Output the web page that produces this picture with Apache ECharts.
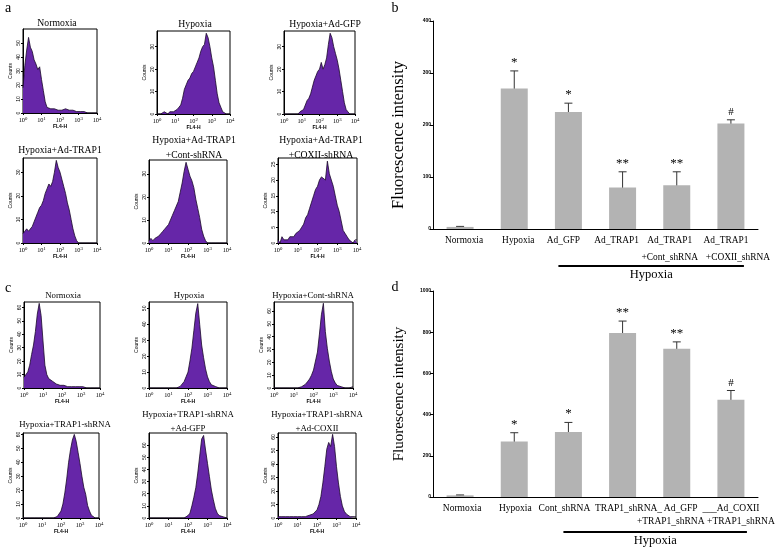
<!DOCTYPE html>
<html>
<head>
<meta charset="utf-8">
<script src="https://cdn.jsdelivr.net/npm/echarts@6/dist/echarts.min.js"></script>
<style>html,body{margin:0;padding:0;background:#fff}#c{width:778px;height:547px}</style>
</head>
<body>
<div id="c"></div>
<script>
// ---------- DATA ----------
// histogram bin positions (log10 decades of FL4-H)
const decades = [0,0.1,0.2,0.3,0.4,0.5,0.6,0.7,0.8,0.9,1,1.1,1.2,1.3,1.4,1.5,1.6,1.7,1.8,1.9,2,2.1,2.2,2.3,2.4,2.5,2.6,2.7,2.8,2.9,3,3.1,3.2,3.3,3.4,3.5,3.6,3.7,3.8,3.9,4];
const xTickExponents = [0,1,2,3,4];

// panel a histograms (counts)
const aNormoxia   = [18,34,45,54,47,44,38,35,31,33, 24,16,8,4,3,3,2,3,2,2, 3,2,2,3,2,2,1,2,1,1, 2,1,1,1,1,0,1,0,0,0, 0];
const aHypoxia    = [0,0,0,0,1,1,0,1,1,1, 1,2,3,4,7,11,13,15,16,18, 19,21,23,25,28,30,31,36,34,30, 25,21,15,9,5,3,1,1,0,0, 0];
const aAdGFP      = [0,0,0,0,0,0,0,0,0,1, 1,2,4,6,7,9,12,15,17,19, 20,23,20,22,25,31,36,34,30,27, 24,20,15,10,5,2,1,0,0,0, 0];
const aAdTRAP1    = [4,5,6,5,5,7,9,11,13,15, 16,18,21,23,25,24,26,30,35,32, 30,27,24,21,17,14,10,6,3,1, 0,0,0,0,0,0,0,0,0,0, 0];
const aTRAP1Cont  = [1,2,1,2,2,3,4,5,6,7, 8,10,12,14,16,18,22,26,31,35, 32,29,27,24,19,15,11,6,3,1, 0,0,0,0,0,0,0,0,0,0, 0];
const aTRAP1COXII = [1,0,2,1,1,1,2,2,2,3, 3,4,5,6,8,9,11,13,15,17, 18,20,21,21,20,26,22,20,18,15, 12,10,7,4,3,2,1,1,0,1, 1];
// panel c histograms (counts)
const cNormoxia   = [8,7,12,17,25,32,42,55,63,54, 35,17,10,7,6,5,4,3,3,2, 2,2,1,1,1,1,1,1,1,1, 1,1,1,0,0,0,0,0,0,0, 0];
const cHypoxia    = [0,0,0,0,0,0,0,0,0,0, 0,0,0,0,0,1,1,2,4,7, 10,17,25,36,47,53,40,27,19,12, 7,4,2,1,1,0,0,0,0,0, 0];
const cContShRNA  = [0,0,0,0,0,0,0,0,0,0, 0,0,0,1,1,2,3,5,7,10, 14,21,28,42,57,66,44,31,21,13, 7,4,2,1,1,0,0,0,0,1, 1];
const cTRAP1sh    = [0,0,0,0,0,0,0,0,0,0, 0,0,0,0,0,0,0,0,1,2, 5,10,18,28,40,49,56,60,55,47, 39,30,22,17,9,5,2,1,0,0, 0];
const cTRAP1GFP   = [0,0,0,0,0,0,0,0,0,0, 0,0,0,0,0,0,0,0,0,1, 2,4,10,17,25,37,51,65,68,56, 45,34,23,15,8,4,2,3,1,0, 0];
const cTRAP1COXII = [1,0,1,0,1,0,1,0,1,1, 1,1,1,1,1,1,2,2,3,4, 6,10,16,26,38,51,56,53,62,53, 38,26,16,9,5,3,2,1,1,1, 1];

const histTitles = ['Normoxia','Hypoxia','Hypoxia+Ad-GFP','Hypoxia+Ad-TRAP1','Hypoxia+Ad-TRAP1\n+Cont-shRNA','Hypoxia+Ad-TRAP1\n+COXII-shRNA',
  'Normoxia','Hypoxia','Hypoxia+Cont-shRNA','Hypoxia+TRAP1-shRNA','Hypoxia+TRAP1-shRNA\n+Ad-GFP','Hypoxia+TRAP1-shRNA\n+Ad-COXII'];
const histData = [aNormoxia,aHypoxia,aAdGFP,aAdTRAP1,aTRAP1Cont,aTRAP1COXII,cNormoxia,cHypoxia,cContShRNA,cTRAP1sh,cTRAP1GFP,cTRAP1COXII];
const histYMax = [60,37,37,36,36,27,64,54,67,61,70,63];
const histYStep = [10,10,10,10,10,5,10,10,10,10,10,10];

// panel b bars
const bCategories = ['Normoxia','Hypoxia','Ad_GFP','Ad_TRAP1','Ad_TRAP1\n+Cont_shRNA','Ad_TRAP1\n+COXII_shRNA'];
const bMeans   = [4, 270, 225, 80, 84, 203];
const bErrLow  = [3, 240, 214, 54, 63, 199];
const bErrHigh = [5, 304, 242, 110, 110, 210];
const bMarks   = ['', '*', '*', '**', '**', '#'];
const bTicks = [0, 100, 200, 300, 400];

// panel d bars
const dCategories = ['Normoxia','Hypoxia','Cont_shRNA','TRAP1_shRNA_','Ad_GFP\n+TRAP1_shRNA','___Ad_COXII\n+TRAP1_shRNA'];
const dMeans   = [8, 270, 315, 796, 720, 472];
const dErrLow  = [6, 243, 283, 752, 705, 443];
const dErrHigh = [10, 312, 362, 854, 753, 517];
const dMarks   = ['', '*', '*', '**', '**', '#'];
const dTicks = [0, 200, 400, 600, 800, 1000];

const groupLabel = 'Hypoxia';
const axisTitle = 'Fluorescence intensity';

// ---------- LAYOUT / STYLE ----------
const SERIF = 'Liberation Serif';
const SANS = 'Liberation Sans';
const histLayout = [
  {l:23,t:29,w:74,h:84},{l:157,t:31,w:73,h:83},{l:284,t:31,w:71,h:83},
  {l:23,t:158,w:74,h:85},{l:149,t:160,w:78,h:83},{l:278,t:158,w:79,h:85},
  {l:24,t:302,w:76,h:86},{l:149,t:302,w:78,h:86},{l:274,t:302,w:79,h:86},
  {l:23,t:433,w:76,h:85},{l:149,t:433,w:78,h:85},{l:278,t:433,w:78,h:85}
];
const titlePos = [[57,23],[195,24],[325,24],[60,150],[194,147.5],[321,147.5],[63,296],[189,296],[313,296],[65,425],[188,422],[317,422]];
const titleLH = [15,15,15,15,15,15,15,15,15,15,14,14];
const titleSize = [9.7,9.7,9.7,9.7,9.7,9.7,8.8,8.8,8.8,8.8,8.8,8.8];
// horizontal nudges (px) of category label lines: [first line, second line]
const bLabelShift = [[4,0],[4,0],[-5,0],[-6,0],[-7,-7],[-5,7]];
const dLabelShift = [[2,0],[1,0],[-4,0],[6,0],[4,-6],[0,10]];

const grids = [], xAxes = [], yAxes = [], series = [], graphics = [];

histData.forEach((arr, i) => {
  const L = histLayout[i];
  grids.push({left:L.l, top:L.t, width:L.w, height:L.h, show:true, borderColor:'#000', borderWidth:1, backgroundColor:'transparent'});
  xAxes.push({
    gridIndex:i, type:'value', min:0, max:4, interval:1,
    axisLine:{show:true, onZero:false, lineStyle:{color:'#000', width:1}},
    axisTick:{show:true, length:2, lineStyle:{color:'#000'}},
    splitLine:{show:false},
    axisLabel:{margin:3, color:'#000', fontFamily:SERIF, fontSize:6,
      formatter: v => xTickExponents.indexOf(v) >= 0 ? '{b|10}{s|' + v + '}' : '',
      rich:{b:{fontSize:6.3, fontFamily:SERIF, color:'#000'}, s:{fontSize:4.8, fontFamily:SERIF, color:'#000', verticalAlign:'top', padding:[0,0,3,0]}}},
    name:'FL4-H', nameLocation:'middle', nameGap:11,
    nameTextStyle:{fontSize:5, fontWeight:'bold', fontFamily:SANS, color:'#000'}
  });
  const step = histYStep[i];
  yAxes.push({
    gridIndex:i, type:'value', min:0, max:histYMax[i], interval:step,
    axisLine:{show:true, lineStyle:{color:'#000', width:1}},
    axisTick:{show:true, length:2, lineStyle:{color:'#000'}},
    splitLine:{show:false},
    axisLabel:{margin:2, rotate:90, color:'#000', fontFamily:SANS, fontSize:5, showMaxLabel:false,
      formatter: v => (v % step === 0 ? String(v) : '')},
    name:'Counts', nameLocation:'middle', nameGap:10,
    nameTextStyle:{fontSize:5, fontFamily:SANS, color:'#000'}
  });
  series.push({
    type:'line', xAxisIndex:i, yAxisIndex:i, symbol:'none', smooth:false, silent:true,
    data: decades.map((d, j) => [d, arr[j]]),
    lineStyle:{color:'#1a0a2a', width:0.8},
    areaStyle:{color:'#6626a8', opacity:1}
  });
  graphics.push({type:'text', x:titlePos[i][0], y:titlePos[i][1], silent:true,
    style:{text:histTitles[i], fill:'#000', fontFamily:SERIF, fontSize:titleSize[i], lineHeight:titleLH[i], align:'center', verticalAlign:'middle'}});
});

function pad(s) { return s >= 0 ? [0,0,0,2*s] : [0,-2*s,0,0]; }

function barPanel(gi, cats, means, lo, hi, marks, ticks, cfg) {
  grids.push({left:433, right:20, top:cfg.top, bottom:cfg.bottom});
  const rich = {};
  cats.forEach((c, k) => {
    rich['f' + k] = {fontFamily:SERIF, fontSize:cfg.fs, color:'#000', lineHeight:cfg.lh, padding:pad(cfg.shift[k][0])};
    rich['s' + k] = {fontFamily:SERIF, fontSize:cfg.fs, color:'#000', lineHeight:cfg.lh, padding:pad(cfg.shift[k][1])};
  });
  xAxes.push({
    gridIndex:gi, type:'category', data:cats,
    axisLine:{lineStyle:{color:'#000', width:1}},
    axisTick:{alignWithLabel:true, length:3, lineStyle:{color:'#000'}},
    axisLabel:{interval:0, margin:cfg.margin, color:'#000', fontFamily:SERIF, fontSize:cfg.fs, lineHeight:cfg.lh,
      formatter: (v, idx) => v.split('\n').map((p, n) => '{' + (n === 0 ? 'f' : 's') + idx + '|' + p + '}').join('\n'),
      rich: rich}
  });
  yAxes.push({
    gridIndex:gi, type:'value', min:ticks[0], max:ticks[ticks.length-1], interval:ticks[1]-ticks[0],
    axisLine:{show:true, lineStyle:{color:'#000', width:1}},
    axisTick:{show:true, length:3, lineStyle:{color:'#000'}},
    splitLine:{show:false},
    axisLabel:{margin:2, color:'#000', fontFamily:SANS, fontSize:5, fontWeight:'bold', formatter: v => String(v)},
    name:axisTitle, nameLocation:'middle', nameGap:26,
    nameTextStyle:{fontFamily:SERIF, fontSize:cfg.nameSize, color:'#000', padding:cfg.namePad}
  });
  series.push({
    type:'bar', xAxisIndex:gi, yAxisIndex:gi, data:means, barWidth:27, silent:true,
    itemStyle:{color:'#b3b3b3'}
  });
  series.push({
    type:'custom', xAxisIndex:gi, yAxisIndex:gi, silent:true, clip:false,
    data: means.map((m, k) => [k, lo[k], hi[k]]),
    encode:{x:0, y:[1,2]},
    renderItem: (params, api) => {
      const k = api.value(0);
      const pLo = api.coord([k, api.value(1)]);
      const pHi = api.coord([k, api.value(2)]);
      const cw = 4;
      const st = {stroke:'#333', lineWidth:1};
      const children = [
        {type:'line', shape:{x1:pLo[0], y1:pLo[1], x2:pHi[0], y2:pHi[1]}, style:st},
        {type:'line', shape:{x1:pLo[0]-cw, y1:pLo[1], x2:pLo[0]+cw, y2:pLo[1]}, style:st},
        {type:'line', shape:{x1:pHi[0]-cw, y1:pHi[1], x2:pHi[0]+cw, y2:pHi[1]}, style:st}
      ];
      const mk = marks[params.dataIndex];
      if (mk) {
        const isHash = mk === '#';
        children.push({type:'text', x:pHi[0], y:pHi[1] - 2,
          style:{text:mk, fill:'#000', fontFamily:SERIF, fontSize:isHash ? 11 : 13, align:'center', verticalAlign:'bottom'}});
      }
      return {type:'group', children};
    }
  });
}

barPanel(12, bCategories, bMeans, bErrLow, bErrHigh, bMarks, bTicks,
  {top:21, bottom:318, margin:3, lh:17, fs:9.4, shift:bLabelShift, nameSize:16.5, namePad:[0,20,0,0]});
barPanel(13, dCategories, dMeans, dErrLow, dErrHigh, dMarks, dTicks,
  {top:291, bottom:50, margin:4.5, lh:13, fs:9.5, shift:dLabelShift, nameSize:15, namePad:[0,0,0,0]});

// panel letters
[['a',8,8],['b',395,8],['c',8,288],['d',395,287]].forEach(p => {
  graphics.push({type:'text', x:p[1], y:p[2], silent:true,
    style:{text:p[0], fill:'#000', fontFamily:SERIF, fontSize:14, align:'center', verticalAlign:'middle'}});
});

const chart = echarts.init(document.getElementById('c'), null, {renderer:'canvas'});
chart.setOption({
  animation:false, backgroundColor:'#fff',
  grid:grids, xAxis:xAxes, yAxis:yAxes, series:series, graphic:graphics
});

// "Hypoxia" group bracket below each bar chart (positioned from the category axis)
function bracket(gi, fromIdx, toIdx, padL, padR, lineGap, textGap) {
  const x1 = chart.convertToPixel({xAxisIndex:gi}, fromIdx) - padL;
  const x2 = chart.convertToPixel({xAxisIndex:gi}, toIdx) + padR;
  const y0 = chart.convertToPixel({yAxisIndex:gi}, 0);
  const y = y0 + lineGap;
  graphics.push({type:'line', silent:true, shape:{x1, y1:y, x2, y2:y}, style:{stroke:'#000', lineWidth:2}});
  graphics.push({type:'text', silent:true, x:(x1 + x2) / 2, y:y + textGap,
    style:{text:groupLabel, fill:'#000', fontFamily:SERIF, fontSize:12.5, align:'center', verticalAlign:'middle'}});
}
bracket(12, 2, 5, 10, 13, 37, 8.5);
bracket(13, 2, 5, 5, 16, 35, 9);
chart.setOption({graphic:graphics});
</script>
</body>
</html>
